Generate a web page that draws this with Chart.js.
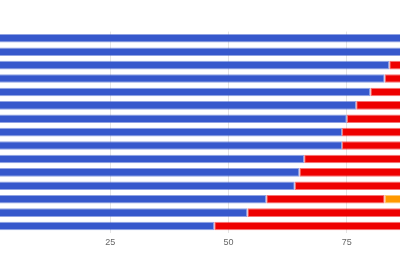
<!DOCTYPE html>
<html>
<head>
<meta charset="utf-8">
<script src="https://cdn.jsdelivr.net/npm/chart.js@4/dist/chart.umd.min.js"></script>
<style>
  html, body { margin: 0; padding: 0; background: #fff; overflow: hidden; width: 400px; height: 275px; }
  #wrap { position: absolute; left: -8px; top: 0; width: 473px; height: 275px; }
</style>
</head>
<body>
<div id="wrap"><canvas id="c" width="473" height="275"></canvas></div>
<script>
const categories = ["1","2","3","4","5","6","7","8","9","10","11","12","13","14","15"];
const blueValues   = [100, 100, 84, 83, 80, 77, 75, 74, 74, 66, 65, 64, 58, 54, 47];
const redValues    = [0, 0, 16, 17, 20, 23, 25, 26, 26, 34, 35, 36, 25, 46, 53];
const orangeValues = [0, 0, 0, 0, 0, 0, 0, 0, 0, 0, 0, 0, 17, 0, 0];
const tickValues = [25, 50, 75];

const mk = (data, bg, border) => ({
  data, backgroundColor: bg, borderColor: border, borderWidth: 1, borderSkipped: false,
  categoryPercentage: 1, barPercentage: 0.64
});

new Chart(document.getElementById('c'), {
  type: 'bar',
  data: {
    labels: categories,
    datasets: [
      mk(blueValues, '#3658cc', 'rgba(54,88,204,0.55)'),
      mk(redValues, '#ee0000', 'rgba(238,0,0,0.55)'),
      mk(orangeValues, '#ff9900', 'rgba(255,153,0,0.55)')
    ]
  },
  options: {
    indexAxis: 'y',
    responsive: false,
    animation: false,
    layout: { padding: { top: 31.6, bottom: 23.5, left: 0, right: 0 } },
    plugins: { legend: { display: false }, tooltip: { enabled: false } },
    scales: {
      x: {
        stacked: true, min: 0, max: 100,
        afterBuildTicks: (s) => { s.ticks = tickValues.map(v => ({ value: v })); },
        grid: { color: '#e4e4e4', drawTicks: false },
        border: { display: false },
        ticks: { padding: 4, color: '#666', font: { family: 'Liberation Sans, Arial', size: 9 } }
      },
      y: { stacked: true, display: false }
    }
  }
});
</script>
</body>
</html>
